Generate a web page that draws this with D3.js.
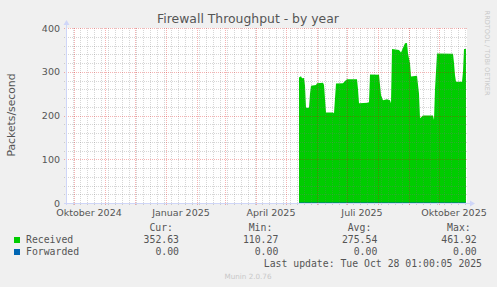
<!DOCTYPE html>
<html>
<head>
<meta charset="utf-8">
<script src="https://cdn.jsdelivr.net/npm/d3@7"></script>
<style>
body { margin: 0; background: #f0f0f0; }
svg { display: block; }
text { font-family: "DejaVu Sans", sans-serif; fill: #555; }
.mono { font-family: "DejaVu Sans Mono", monospace; font-size: 9.8px; }
</style>
</head>
<body>
<svg width="497" height="287"></svg>
<script>
// values
var dates = ["2025-05-14","2025-05-16","2025-05-17","2025-05-19","2025-05-20","2025-05-21","2025-05-24","2025-05-25","2025-05-26","2025-05-31",
    "2025-06-01","2025-06-07","2025-06-08","2025-06-10","2025-06-17","2025-06-18","2025-06-20","2025-06-27","2025-06-29","2025-07-01",
    "2025-07-11","2025-07-12","2025-07-13","2025-07-22","2025-07-23","2025-07-24","2025-08-02","2025-08-04","2025-08-06","2025-08-10",
    "2025-08-13","2025-08-14","2025-08-15","2025-08-22","2025-08-24","2025-08-26","2025-08-28","2025-08-30","2025-08-31","2025-09-02",
    "2025-09-03","2025-09-09","2025-09-11","2025-09-12","2025-09-15","2025-09-25","2025-09-26","2025-09-27","2025-09-29","2025-10-15",
    "2025-10-16","2025-10-17","2025-10-18","2025-10-24","2025-10-25","2025-10-26","2025-10-28"];
var received = [287,290,285,286,268,218,218,250,268,270,
    274,275,270,207,207,205,273,274,279,283,
    283,260,228,229,231,294,293,247,235,237,
    235,228,352,350,344,355,365,366,342,319,
    289,291,250,194,200,200,190,260,342,341,
    320,292,277,277,300,352,352];
var forwardedDates = ["2025-05-14","2025-10-28"];
var forwarded = [0, 0];

var series = ["Received", "Forwarded"];
var curVals = [352.63, 0.00];
var minVals = [110.27, 0.00];
var avgVals = [275.54, 0.00];
var maxVals = [461.92, 0.00];

var yTicks = [0, 100, 200, 300, 400];
var xLabels = ["Oktober 2024", "Januar 2025", "April 2025", "Juli 2025", "Oktober 2025"];
var xLabelDates = ["2024-10-16", "2025-01-16", "2025-04-16", "2025-07-16", "2025-10-16"];
var timeStart = "2024-09-23", timeEnd = "2025-10-28";

var colors = ["#00cc00", "#0066b3"];
var parse = d3.utcParse("%Y-%m-%d");

var svg = d3.select("svg");
var plotL = 66, plotR = 466, plotT = 28, plotB = 203;

var xScale = d3.scaleUtc()
    .domain([parse(timeStart), parse(timeEnd)])
    .range([plotL, plotR]);
var yScale = d3.scaleLinear()
    .domain([0, 400])
    .range([plotB, plotT]);

svg.append("rect")
    .attr("x", plotL).attr("y", plotT)
    .attr("width", plotR - plotL + 1).attr("height", plotB - plotT)
    .attr("fill", "#fff");

var recData = dates.map(function(d, i) { return {x: parse(d), y: received[i]}; });
var fwdData = forwardedDates.map(function(d, i) { return {x: parse(d), y: forwarded[i]}; });

var area = d3.area()
    .x(function(d) { return xScale(d.x); })
    .y0(yScale(0))
    .y1(function(d) { return yScale(d.y); });
svg.append("path")
    .attr("d", area(recData))
    .attr("fill", colors[0]);

var line = d3.line()
    .x(function(d) { return xScale(d.x); })
    .y(function(d) { return yScale(d.y); });
svg.append("path")
    .attr("d", line(fwdData))
    .attr("fill", "none")
    .attr("stroke", colors[1]);

// grid on top, like rrdtool
var dom = xScale.domain();
var minorCol = "rgba(120,120,120,0.3)", majorCol = "rgba(225,0,0,0.3)";
var grid = svg.append("g").attr("shape-rendering", "crispEdges");
grid.selectAll(".ymin")
    .data(d3.range(0, 401, 20).filter(function(v) { return v % 100; }))
    .enter().append("line")
    .attr("x1", plotL - 2).attr("x2", plotR + 2)
    .attr("y1", function(d) { return Math.round(yScale(d)) + 0.5; })
    .attr("y2", function(d) { return Math.round(yScale(d)) + 0.5; })
    .attr("stroke", minorCol)
    .attr("stroke-dasharray", "1,1");
grid.selectAll(".xmin")
    .data(d3.utcMonday.range(dom[0], dom[1]))
    .enter().append("line")
    .attr("x1", function(d) { return Math.round(xScale(d)) + 0.5; })
    .attr("x2", function(d) { return Math.round(xScale(d)) + 0.5; })
    .attr("y1", plotT).attr("y2", plotB + 2)
    .attr("stroke", minorCol)
    .attr("stroke-dasharray", "1,1");
grid.selectAll(".ymaj")
    .data(yTicks)
    .enter().append("line")
    .attr("x1", plotL - 2).attr("x2", plotR + 2)
    .attr("y1", function(d) { return Math.round(yScale(d)) + 0.5; })
    .attr("y2", function(d) { return Math.round(yScale(d)) + 0.5; })
    .attr("stroke", majorCol)
    .attr("stroke-dasharray", "1,1");
grid.selectAll(".xmaj")
    .data(d3.utcMonth.range(dom[0], dom[1]))
    .enter().append("line")
    .attr("x1", function(d) { return Math.round(xScale(d)) + 0.5; })
    .attr("x2", function(d) { return Math.round(xScale(d)) + 0.5; })
    .attr("y1", plotT).attr("y2", plotB + 3)
    .attr("stroke", majorCol)
    .attr("stroke-dasharray", "1,1");

// axes
var axisCol = "#cfd6f8";
svg.append("line")
    .attr("x1", plotL - 2).attr("x2", plotR + 5)
    .attr("y1", plotB + 0.5).attr("y2", plotB + 0.5)
    .attr("stroke", axisCol);
svg.append("line")
    .attr("x1", plotL + 0.5).attr("x2", plotL + 0.5)
    .attr("y1", plotB + 2).attr("y2", plotT - 5)
    .attr("stroke", axisCol);
svg.append("path")
    .attr("d", "M" + (plotR + 4) + "," + (plotB - 2.5) + "L" + (plotR + 9) + "," + (plotB + 0.5) + "L" + (plotR + 4) + "," + (plotB + 3.5) + "Z")
    .attr("fill", axisCol);
svg.append("path")
    .attr("d", "M" + (plotL - 2.5) + "," + (plotT - 3) + "L" + (plotL + 0.5) + "," + (plotT - 8) + "L" + (plotL + 3.5) + "," + (plotT - 3) + "Z")
    .attr("fill", axisCol);

// tick labels
svg.selectAll(".ylab")
    .data(yTicks)
    .enter().append("text")
    .attr("x", 60)
    .attr("y", function(d) { return yScale(d) + 3.5; })
    .attr("text-anchor", "end")
    .style("font-size", "9.5px")
    .text(function(d) { return d; });
svg.selectAll(".xlab")
    .data(xLabels)
    .enter().append("text")
    .attr("x", function(d, i) { return xScale(parse(xLabelDates[i])); })
    .attr("y", 216)
    .attr("text-anchor", "middle")
    .style("font-size", "9.5px")
    .text(function(d) { return d; });

svg.append("text")
    .attr("x", 248).attr("y", 23)
    .attr("text-anchor", "middle")
    .style("font-size", "12.4px")
    .text("Firewall Throughput - by year");

svg.append("text")
    .attr("transform", "translate(14.5,115) rotate(-90)")
    .attr("text-anchor", "middle")
    .style("font-size", "10.8px")
    .text("Packets/second");

svg.append("text")
    .attr("transform", "translate(485,53) rotate(90)")
    .attr("text-anchor", "middle")
    .style("font-size", "6.6px")
    .style("fill", "#c8c8c8")
    .text("RRDTOOL / TOBI OETIKER");

// legend
var cols = [{h: "Cur:", v: curVals, x: 179}, {h: "Min:", v: minVals, x: 278.3},
            {h: "Avg:", v: avgVals, x: 377.3}, {h: "Max:", v: maxVals, x: 476.7}];
cols.forEach(function(c) {
    svg.append("text").attr("class", "mono")
        .attr("x", c.x - 6).attr("y", 231)
        .attr("text-anchor", "end")
        .text(c.h);
});
var legend = svg.selectAll(".leg")
    .data(series)
    .enter().append("g")
    .attr("transform", function(d, i) { return "translate(0," + (i * 12) + ")"; });
legend.append("rect")
    .attr("x", 14).attr("y", 237)
    .attr("width", 6).attr("height", 6)
    .attr("fill", function(d, i) { return colors[i]; });
legend.append("text").attr("class", "mono")
    .attr("x", 26).attr("y", 243)
    .text(function(d) { return d; });
cols.forEach(function(c) {
    legend.append("text").attr("class", "mono")
        .attr("x", c.x).attr("y", 243)
        .attr("text-anchor", "end")
        .text(function(d, i) { return c.v[i].toFixed(2); });
});

svg.append("text").attr("class", "mono")
    .attr("x", 482).attr("y", 267)
    .attr("text-anchor", "end")
    .text("Last update: Tue Oct 28 01:00:05 2025");

svg.append("text")
    .attr("x", 248).attr("y", 279)
    .attr("text-anchor", "middle")
    .style("font-size", "7.2px")
    .style("fill", "#c8c8c8")
    .text("Munin 2.0.76");
</script>
</body>
</html>
